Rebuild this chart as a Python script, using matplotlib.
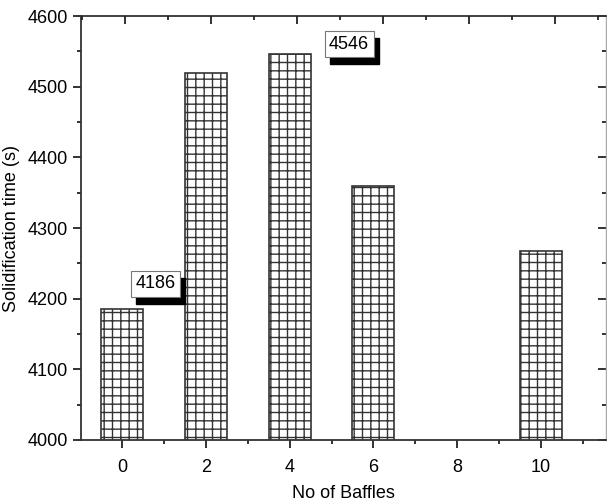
import matplotlib
matplotlib.use("Agg")
import matplotlib.pyplot as plt
from matplotlib.patches import Rectangle
from matplotlib.ticker import MultipleLocator

plt.rcParams['font.family'] = ['Liberation Sans', 'DejaVu Sans']
plt.rcParams['hatch.linewidth'] = 1.0
plt.rcParams['hatch.color'] = '#555555'

# data
baffles = [0, 2, 4, 6, 10]
solid_time = [4186, 4520, 4546, 4360, 4268]
xticks = [0, 2, 4, 6, 8, 10]
# boxed value labels: (text, x, y)
notes = [("4186", 0.8, 4221), ("4546", 5.42, 4560)]

fig = plt.figure(figsize=(6.07, 5.04), dpi=100)
ax = fig.add_axes([0.1334, 0.127, 0.8646, 0.841])

ax.bar(baffles, solid_time, width=1.0, bottom=0, color='white',
       edgecolor='#333333', linewidth=1.2, hatch='++', zorder=2)

ax.set_xlim(-0.985, 11.55)
ax.set_ylim(4000, 4600)
ax.set_xticks(xticks)
ax.xaxis.set_minor_locator(MultipleLocator(1))
ax.yaxis.set_major_locator(MultipleLocator(100))
ax.yaxis.set_minor_locator(MultipleLocator(50))

ax.tick_params(axis='x', which='major', direction='out', length=6, width=1.3,
               labelsize=13, pad=8, color='#222222')
ax.tick_params(axis='x', which='minor', direction='out', length=3, width=1.3,
               color='#222222')
ax.tick_params(axis='y', which='major', direction='out', length=6, width=1.3,
               labelsize=13, right=True, color='#222222')
ax.tick_params(axis='y', which='minor', direction='out', length=3, width=1.3,
               right=True, color='#222222')
# right side ticks point inward
for t in ax.yaxis.get_major_ticks():
    t.tick2line.set_marker(0)
    t.tick2line.set_markersize(6)
for t in ax.yaxis.get_minor_ticks():
    t.tick2line.set_marker(0)
    t.tick2line.set_markersize(3)

for side in ['left', 'bottom', 'top']:
    ax.spines[side].set_linewidth(1.3)
    ax.spines[side].set_color('#333333')
ax.spines['right'].set_color('#aaaaaa')
ax.spines['right'].set_linewidth(1.0)

# top axis with its own slightly different scale
top = ax.twiny()
top.set_xlim(-1.023, 11.19)
top.set_xticks(xticks)
top.xaxis.set_minor_locator(MultipleLocator(1))
top.tick_params(axis='x', which='major', direction='in', length=6, width=1.3,
                labeltop=False, color='#222222')
top.tick_params(axis='x', which='minor', direction='in', length=3, width=1.3,
                color='#222222')
for s in top.spines.values():
    s.set_visible(False)

ax.set_xlabel('No of Baffles', fontsize=13, labelpad=6)
ax.set_ylabel('Solidification time (s)', fontsize=13, labelpad=5)

labels = []
for txt, x, y in notes:
    t = ax.text(x, y, txt, ha='center', va='center', fontsize=13, color='black',
                bbox=dict(boxstyle='square,pad=0.25', fc='white', ec='#777777',
                          lw=0.8), zorder=5)
    labels.append(t)

# black drop shadow behind each boxed label
fig.canvas.draw()
r = fig.canvas.get_renderer()
inv = ax.transData.inverted()
for t in labels:
    bb = t.get_bbox_patch().get_window_extent(r)
    x0, y0 = inv.transform((bb.x0 + 5, bb.y0 - 7))
    x1, y1 = inv.transform((bb.x1 + 5, bb.y1 - 7))
    ax.add_patch(Rectangle((x0, y0), x1 - x0, y1 - y0, color='black',
                           zorder=4))

fig.savefig('out.png', dpi=100)
